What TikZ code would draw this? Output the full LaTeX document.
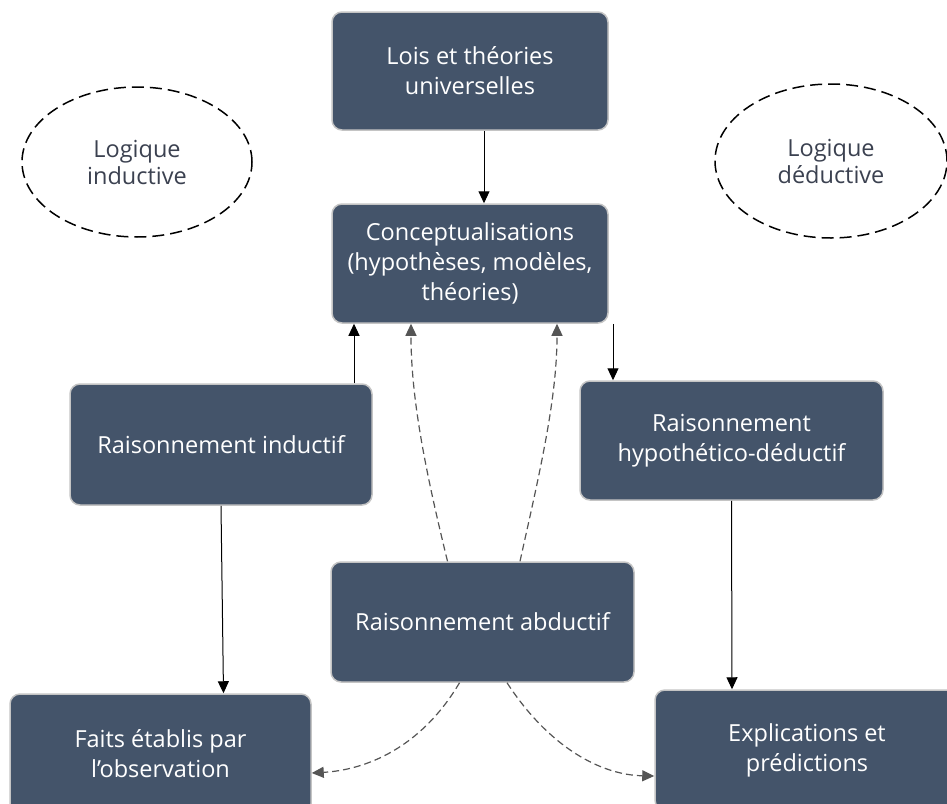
\documentclass[tikz,border=0pt]{standalone}
\usepackage{fontspec}
\setmainfont{Open Sans}
\usepackage{xcolor}
\usetikzlibrary{shapes.geometric}
\usetikzlibrary{arrows.meta}

\definecolor{boxfill}{HTML}{44546A}
\definecolor{boxline}{HTML}{C4C4C4}
\definecolor{labtext}{HTML}{3B4150}
\definecolor{dashgray}{HTML}{555555}

\begin{document}
\begin{tikzpicture}[x=1pt,y=-1pt,
	Box/.style={rectangle, rounded corners=10pt, fill=boxfill, draw=boxline,
		line width=1.5pt, text=white, align=center, inner sep=0pt,
		font=\fontsize{23.5}{30}\selectfont},
	Logic/.style={ellipse, draw=black, dashed, dash pattern=on 12pt off 6pt,
		line width=1.5pt, text=labtext, align=center, inner sep=0pt,
		font=\fontsize{23.5}{27}\selectfont},
	Arr/.style={-{Triangle[length=12pt,width=11pt]}, line width=1pt, black},
	DArr/.style={-{Triangle[length=12pt,width=11pt]}, line width=1.2pt,
		dashgray, dashed, dash pattern=on 7pt off 4pt}]
			%\draw[help lines] (0,0) grid (947,803);
			\clip (0,0) rectangle (947,803);
			
			\node[Logic, minimum width=230, minimum height=150] (induc) at (137,162) {Logique\\inductive};
			\node[Logic, minimum width=232, minimum height=154] (deduc) at (831,161) {Logique\\déductive};
			
			\node[Box, minimum width=276, minimum height=118] (lois) at (470,71) {Lois et théories\\universelles};
			\node[Box, minimum width=276, minimum height=119] (concept) at (470,263.5) {Conceptualisations\\(hypothèses, modèles,\\théories)};
			
			\node[Box, minimum width=302, minimum height=121] (induct) at (221,444.5) {Raisonnement inductif};
			\node[Box, minimum width=303, minimum height=119] (hypo) at (731.5,440.5) {Raisonnement\\hypothético-déductif};
			\node[Box, minimum width=303, minimum height=120] (abduct) at (482.5,622) {Raisonnement abductif};
			
			\node[Box, minimum width=301, minimum height=120] (faits) at (160.5,754) {Faits établis par\\l’observation};
			\node[Box, minimum width=304, minimum height=120] (explic) at (807,750) {Explications et\\prédictions};
			
			\draw[Arr] ([xshift=14]lois.south) -- ([xshift=14]concept.north);
			\draw[Arr] ([xshift=133]induct.north) -- ([xshift=133]induct.north |- concept.south);
			\draw[Arr] ([xshift=-118.5]hypo.north |- concept.south) -- ([xshift=-118.5]hypo.north);
			\draw[Arr] (induct.south) -- ([xshift=63]faits.north);
			\draw[Arr] (hypo.south) -- ([xshift=-75]explic.north);
			
			\draw[DArr] ([xshift=-35]abduct.north) .. controls +(-22,-90) and +(0,75) .. ([xshift=-59]concept.south);
			\draw[DArr] ([xshift=37.5]abduct.north) .. controls +(20,-90) and +(0,75) .. ([xshift=87]concept.south);
			\draw[DArr] ([xshift=-23]abduct.south) .. controls +(-39,66) and +(53,-3) .. ([yshift=-19]faits.east);
			\draw[DArr] ([xshift=24.5]abduct.south) .. controls +(43,66) and +(-52,-1) .. ([yshift=-26]explic.west);
			
			\end{tikzpicture}
\end{document}
